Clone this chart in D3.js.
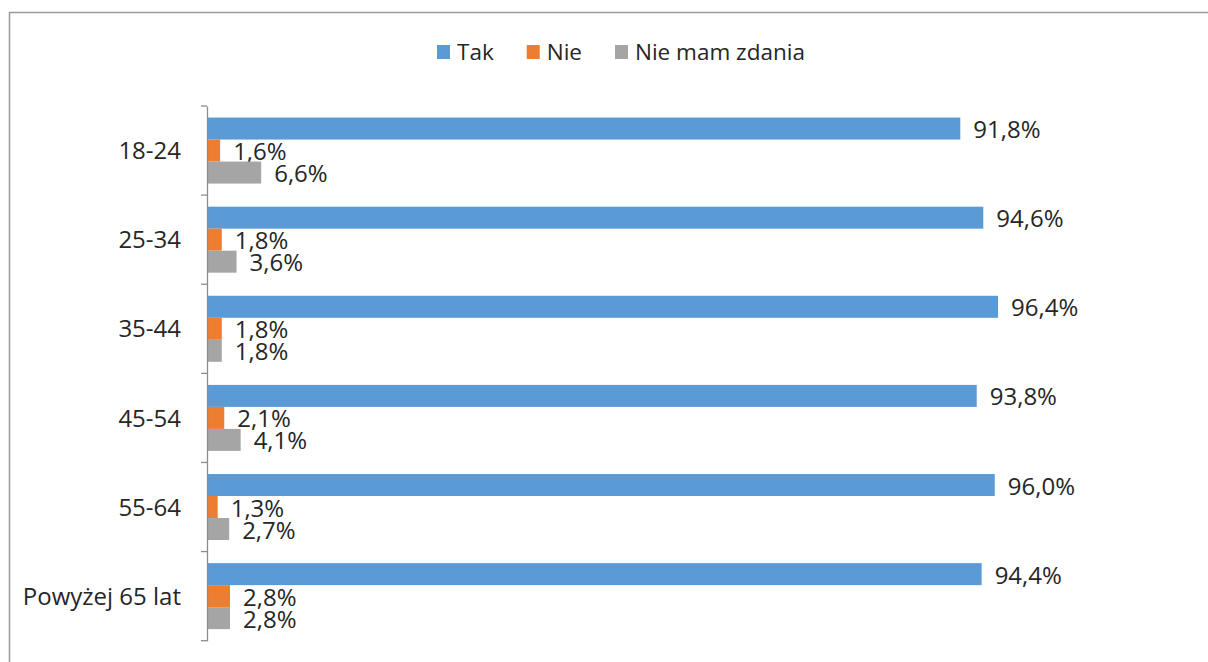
<!DOCTYPE html>
<html>
<head>
<meta charset="utf-8">
<script src="https://cdn.jsdelivr.net/npm/d3@7/dist/d3.min.js"></script>
<style>
  html, body { margin: 0; padding: 0; background: #fff; }
  svg { display: block; }
  text { font-family: "Open Sans", sans-serif; fill: #262626; }
</style>
</head>
<body>
<svg id="chart" width="1208" height="662"></svg>
<script>
// Age groups and answer shares (%)
const categories = ["18-24", "25-34", "35-44", "45-54", "55-64", "Powyżej 65 lat"];
const seriesNames = ["Tak", "Nie", "Nie mam zdania"];
const tak = [91.8, 94.6, 96.4, 93.8, 96.0, 94.4];
const nie = [1.6, 1.8, 1.8, 2.1, 1.3, 2.8];
const brakZdania = [6.6, 3.6, 1.8, 4.1, 2.7, 2.8];
const colors = ["#5B9BD5", "#ED7D31", "#A5A5A5"];

const seriesValues = [tak, nie, brakZdania];
const fmt = v => d3.format(".1f")(v).replace(".", ",") + "%";

const svg = d3.select("#chart");

// outer frame (top and left edges visible)
svg.append("path")
  .attr("d", "M9.5,662 L9.5,12.5 L1208,12.5")
  .attr("fill", "none")
  .attr("stroke", "#9a9a9a")
  .attr("stroke-width", 1.5);

const plotLeft = 207, plotTop = 106, plotBottom = 640.7;

const x = d3.scaleLinear().domain([0, 100]).range([plotLeft, plotLeft + 820.6]);
const y = d3.scaleBand().domain(categories).range([plotTop, plotBottom]).padding(0);
const ySub = d3.scaleBand().domain(seriesNames).range([0, y.bandwidth()])
  .paddingInner(0).paddingOuter(0.525);

// bars and value labels
const groups = svg.selectAll("g.cat")
  .data(categories)
  .join("g")
  .attr("class", "cat")
  .attr("transform", d => `translate(0,${y(d)})`);

seriesNames.forEach((s, si) => {
  groups.append("rect")
    .attr("x", x(0))
    .attr("y", ySub(s))
    .attr("width", (d, i) => x(seriesValues[si][i]) - x(0))
    .attr("height", ySub.bandwidth())
    .attr("fill", colors[si]);

  groups.append("text")
    .attr("x", (d, i) => x(seriesValues[si][i]) + 13)
    .attr("y", ySub(s) + ySub.bandwidth() / 2 + 9.5)
    .attr("font-size", 24)
    .text((d, i) => fmt(seriesValues[si][i]));
});

// category axis with ticks on band boundaries
const axis = svg.append("g").attr("transform", `translate(${plotLeft},0)`)
  .call(d3.axisLeft(y).tickSize(0).tickPadding(26));
axis.select(".domain").attr("stroke", "#8c8c8c").attr("stroke-width", 1.3);
axis.selectAll(".tick text")
  .attr("font-size", 24)
  .attr("font-family", "Open Sans, sans-serif")
  .attr("fill", "#262626")
  .attr("dy", "0.36em");

const boundaries = categories.map(c => y(c)).concat([y.range()[1]]);
svg.append("g").selectAll("line")
  .data(boundaries)
  .join("line")
  .attr("x1", plotLeft - 6).attr("x2", plotLeft)
  .attr("y1", d => d).attr("y2", d => d)
  .attr("stroke", "#8c8c8c")
  .attr("stroke-width", 1.3);

// legend
const legend = svg.append("g").attr("transform", "translate(437,0)");
let lx = 0;
seriesNames.forEach((s, i) => {
  legend.append("rect")
    .attr("x", lx).attr("y", 45)
    .attr("width", 13).attr("height", 14)
    .attr("fill", colors[i]);
  const t = legend.append("text")
    .attr("x", lx + 20).attr("y", 60)
    .attr("font-size", 22.5)
    .text(s);
  lx += 20 + t.node().getComputedTextLength() + 33;
});
</script>
</body>
</html>
